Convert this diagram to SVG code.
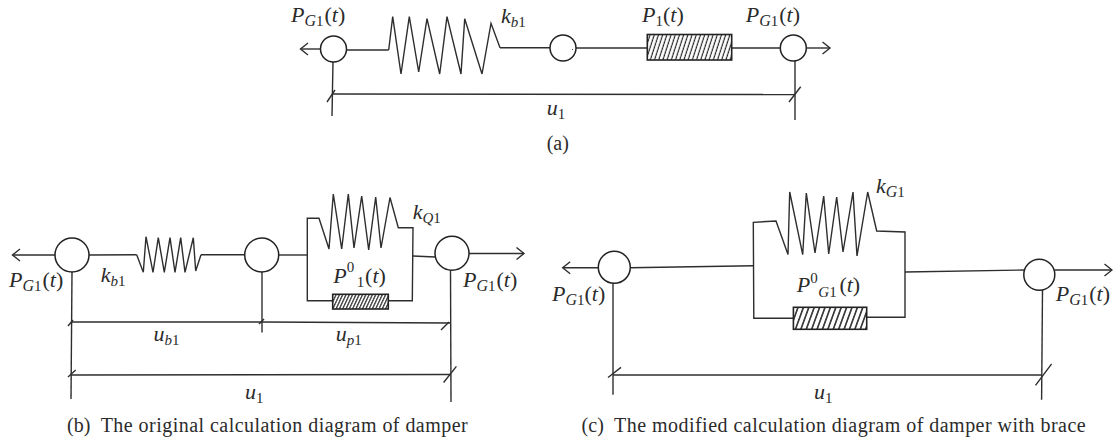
<svg xmlns="http://www.w3.org/2000/svg" width="1113" height="442" viewBox="0 0 1113 442">
<style>
text{font-family:"Liberation Serif",serif;fill:#2b2b2b}
.m{font-size:22px;font-style:italic}
.s{font-size:15px;font-style:normal}
.si{font-size:15px;font-style:italic}
.g{font-size:16px;font-style:italic}
.r{font-size:22px;font-style:normal}
.t{font-size:22px;font-style:italic}
.c{font-size:20px}
.l{fill:none;stroke:#2e2e2e;stroke-width:1.4;stroke-linejoin:miter}
.n{fill:#fff;stroke:#222;stroke-width:1.5}
.d{stroke:#222;stroke-width:1.6}
</style>
<defs>
<marker id="a" markerUnits="userSpaceOnUse" markerWidth="12" markerHeight="16" refX="9" refY="7" orient="auto"><path d="M1.5,1 L9,7 L1.5,13" fill="none" stroke="#2e2e2e" stroke-width="1.4"/></marker>
<pattern id="h" patternUnits="userSpaceOnUse" width="4.2" height="30" patternTransform="skewX(-18)"><rect width="4.2" height="30" fill="#fff"/><line x1="2" y1="0" x2="2" y2="30" stroke="#222" stroke-width="1.2"/></pattern>
<pattern id="h2" patternUnits="userSpaceOnUse" width="3.3" height="30" patternTransform="skewX(-25)"><rect width="3.3" height="30" fill="#fff"/><line x1="1.6" y1="0" x2="1.6" y2="30" stroke="#222" stroke-width="1.3"/></pattern>
<pattern id="h3" patternUnits="userSpaceOnUse" width="5.4" height="30" patternTransform="skewX(-20)"><rect width="5.4" height="30" fill="#fff"/><line x1="2.7" y1="0" x2="2.7" y2="30" stroke="#222" stroke-width="1.6"/></pattern>
</defs>
<g id="connectors" class="l">
<path d="M320,49 L300.5,49" marker-end="url(#a)"/>
<path d="M347,50 H388.7"/>
<path d="M500,47.7 H550"/>
<path d="M576,48 H647"/>
<path d="M732,48 H780"/>
<path d="M806,48 H830" marker-end="url(#a)"/>
<path d="M333,61 L332,116"/>
<path d="M795,61 V120"/>
<path d="M333,94 L795,94.5"/>
<path d="M327,102 L335,90"/>
<path d="M789,102 L800.7,86.7"/>
<path d="M55,255 H12.5" marker-end="url(#a)"/>
<path d="M89,255 L136.7,254.7"/>
<path d="M201,254.7 H245"/>
<path d="M278.7,255 H307.3"/>
<path d="M413,256 L435,257"/>
<path d="M469,253.5 H524" marker-end="url(#a)"/>
<path d="M72,272 L71,399"/>
<path d="M450.5,270 L451,402"/>
<path d="M262,272 V332.5"/>
<path d="M71.5,322 L262,322 L450.7,323"/>
<path d="M71,375 L451,374.5"/>
<path d="M68,326 L73,320"/>
<path d="M259,324 L264,319"/>
<path d="M441,330 L449,322"/>
<path d="M68,377 L75.7,370"/>
<path d="M443.6,382.5 L456.4,366.4"/>
<path d="M598,267.7 H562.7" marker-end="url(#a)"/>
<path d="M630,267.7 L753.3,265.7"/>
<path d="M905,272 L1025,270"/>
<path d="M1055,270 H1112" marker-end="url(#a)"/>
<path d="M613,283 V394.7"/>
<path d="M1042.5,290 L1041.6,399.7"/>
<path d="M613,375 H1042"/>
<path d="M608,377.5 L621,367.4"/>
<path d="M1035.5,385.3 L1051.6,363.8"/>
</g>
<g id="node-a-left"><circle class="n" cx="333.5" cy="49" r="13"/></g>
<g id="node-a-mid"><circle class="n" cx="563" cy="48" r="13"/><circle cx="572.5" cy="49.5" r="0.6" fill="#333"/></g>
<g id="node-a-right"><circle class="n" cx="793.3" cy="48" r="13"/></g>
<g id="spring-a"><path class="l" d="M388.7,50 L392.7,16.7 L401,74 L409.3,16.7 L418.7,72 L427,18.7 L439.7,74 L447,16.7 L461,74 L464.7,18.7 L482,74 L491,23.3 L500,47.7"/></g>
<g id="damper-a"><rect class="d" fill="url(#h)" x="647.3" y="34.5" width="84.4" height="25.5"/></g>
<g id="node-b-left"><circle class="n" cx="72" cy="255" r="17"/></g>
<g id="node-b-mid"><circle class="n" cx="261.7" cy="255" r="17"/></g>
<g id="node-b-right"><circle class="n" cx="452" cy="253.3" r="17"/></g>
<g id="spring-b1"><path class="l" d="M136.7,254.7 L143.3,272.3 L146,236.7 L153,272.3 L158.3,237.7 L164.3,272.3 L170,237.7 L175,272.3 L180.7,237.7 L185,272.3 L193.3,237.7 L195.7,271 L201,254.7"/></g>
<g id="spring-b2"><path class="l" d="M332.7,300.7 H307.3 V218.3 H319 L329,249 L333.3,194 L341.7,249 L348.3,194 L354,248 L361.7,196 L368.7,250 L375.7,197 L381,248 L390,197.5 L398.3,227.7 H413 L412.3,300.7 H388.3"/></g>
<g id="damper-b"><rect class="d" fill="url(#h2)" x="332.7" y="294.3" width="55.6" height="14.7"/></g>
<g id="node-c-left"><circle class="n" cx="614.3" cy="267.3" r="16"/></g>
<g id="node-c-right"><circle class="n" cx="1039.3" cy="274.7" r="15.5"/></g>
<g id="spring-c"><path class="l" d="M793.4,318.3 H753.8 L753.3,222.3 L776,221 L788,254.5 L789.7,192 L802.7,254.7 L806.3,193 L815,253 L823.7,196 L828.7,254 L836.7,197 L843,252 L853,192 L857,256 L867.7,192 L876.7,231 L905,232 V317.3 H866.7"/></g>
<g id="damper-c"><rect class="d" fill="url(#h3)" x="793.4" y="307.3" width="73.3" height="22"/></g>
<g id="labels">
<text class="m" x="291" y="22">P<tspan class="g" dy="4">G</tspan><tspan class="s">1</tspan><tspan class="r" dx="1" dy="-4">(</tspan><tspan class="t">t</tspan><tspan class="r">)</tspan></text>
<text class="m" x="501" y="23">k<tspan class="si" dy="4">b</tspan><tspan class="s">1</tspan></text>
<text class="m" x="642" y="22">P<tspan class="s" dy="4">1</tspan><tspan class="r" dy="-4">(</tspan><tspan class="t">t</tspan><tspan class="r">)</tspan></text>
<text class="m" x="745.7" y="22">P<tspan class="g" dy="4">G</tspan><tspan class="s">1</tspan><tspan class="r" dx="1" dy="-4">(</tspan><tspan class="t">t</tspan><tspan class="r">)</tspan></text>
<text class="m" x="546.7" y="115">u<tspan class="s" dy="4">1</tspan></text>
<text class="c" x="546.7" y="150">(a)</text>
<text class="m" x="9" y="286.7">P<tspan class="g" dy="4">G</tspan><tspan class="s">1</tspan><tspan class="r" dx="1" dy="-4">(</tspan><tspan class="t">t</tspan><tspan class="r">)</tspan></text>
<text class="m" x="100.7" y="281.7">k<tspan class="si" dy="4">b</tspan><tspan class="s">1</tspan></text>
<text class="m" x="412.7" y="219">k<tspan class="si" dy="4">Q</tspan><tspan class="s">1</tspan></text>
<text class="m" x="333.3" y="282.7">P<tspan class="s" dy="-10.7">0</tspan><tspan class="s" dx="2.5" dy="15">1</tspan><tspan class="r" dx="0.8" dy="-4.3">(</tspan><tspan class="t">t</tspan><tspan class="r">)</tspan></text>
<text class="m" x="463" y="286.7">P<tspan class="g" dy="4">G</tspan><tspan class="s">1</tspan><tspan class="r" dx="1" dy="-4">(</tspan><tspan class="t">t</tspan><tspan class="r">)</tspan></text>
<text class="m" x="153.6" y="341.4">u<tspan class="si" dy="4">b</tspan><tspan class="s">1</tspan></text>
<text class="m" x="335.7" y="341">u<tspan class="si" dy="4">p</tspan><tspan class="s">1</tspan></text>
<text class="m" x="245" y="399">u<tspan class="s" dy="4">1</tspan></text>
<text class="c" x="67" y="431.5">(b)</text>
<text class="c" x="100.7" y="431.5" textLength="367">The original calculation diagram of damper</text>
<text class="m" x="552" y="300.7">P<tspan class="g" dy="4">G</tspan><tspan class="s">1</tspan><tspan class="r" dy="-4">(</tspan><tspan class="t">t</tspan><tspan class="r">)</tspan></text>
<text class="m" x="796.7" y="292">P<tspan class="s" dy="-9.3">0</tspan><tspan class="si" dx="0.7" dy="14.3">G</tspan><tspan class="s">1</tspan><tspan class="r" dx="2.7" dy="-5">(</tspan><tspan class="t">t</tspan><tspan class="r">)</tspan></text>
<text class="m" x="876" y="192.7">k<tspan class="g" dy="4">G</tspan><tspan class="s">1</tspan></text>
<text class="m" x="1055.7" y="300.7">P<tspan class="g" dy="4">G</tspan><tspan class="s">1</tspan><tspan class="r" dx="1" dy="-4">(</tspan><tspan class="t">t</tspan><tspan class="r">)</tspan></text>
<text class="m" x="814" y="399">u<tspan class="s" dy="4">1</tspan></text>
<text class="c" x="581.6" y="431.5">(c)</text>
<text class="c" x="614" y="431.5" textLength="471.7">The modified calculation diagram of damper with brace</text>
</g>
</svg>
